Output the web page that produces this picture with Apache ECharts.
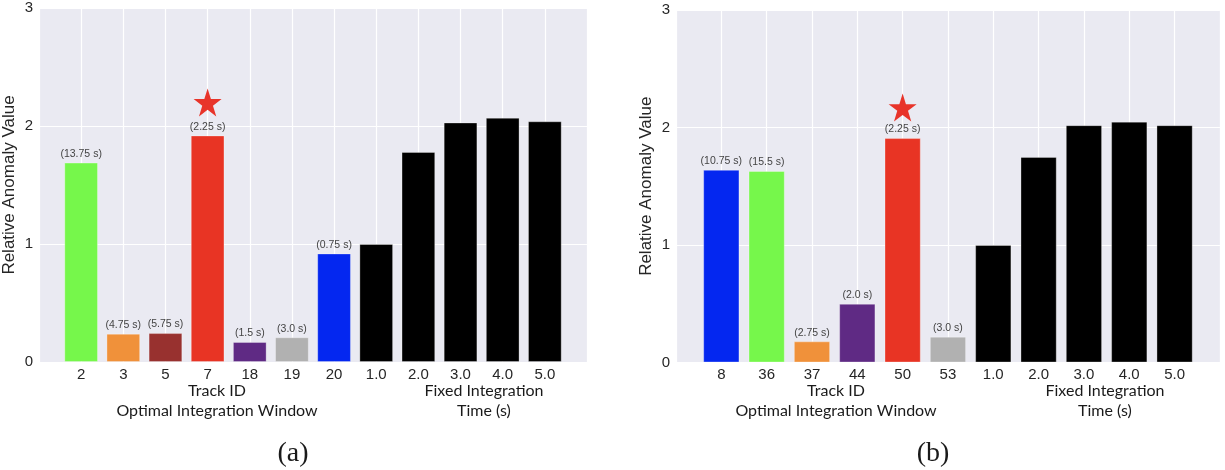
<!DOCTYPE html>
<html>
<head>
<meta charset="utf-8">
<title>Relative anomaly value per track</title>
<script src="https://cdn.jsdelivr.net/npm/echarts@6/dist/echarts.min.js"></script>
<style>
  html, body { margin: 0; padding: 0; background: #ffffff; }
  #chart { width: 1225px; height: 470px; }
</style>
</head>
<body>
<div id="chart"></div>
<script>
// ---- shared ----
const fixedTimes = ['1.0', '2.0', '3.0', '4.0', '5.0'];
const yTicks = [0, 1, 2, 3];

// ---- panel (a) ----
const trackIdsA = ['2', '3', '5', '7', '18', '19', '20'];
const trackValuesA = [1.69, 0.24, 0.245, 1.92, 0.17, 0.21, 0.92];
const windowsA = ['13.75 s', '4.75 s', '5.75 s', '2.25 s', '1.5 s', '3.0 s', '0.75 s'];
const trackColorsA = ['#76f74b', '#f0913a', '#98312f', '#e83424', '#5f2a84', '#b1b1b1', '#0427f0'];
const fixedValuesA = [1.00, 1.78, 2.03, 2.07, 2.04];
const bestTrackA = '7';
const starValueA = 2.2;

// ---- panel (b) ----
const trackIdsB = ['8', '36', '37', '44', '50', '53'];
const trackValuesB = [1.64, 1.63, 0.18, 0.50, 1.91, 0.22];
const windowsB = ['10.75 s', '15.5 s', '2.75 s', '2.0 s', '2.25 s', '3.0 s'];
const trackColorsB = ['#0427f0', '#76f74b', '#f0913a', '#5f2a84', '#e83424', '#b1b1b1'];
const fixedValuesB = [1.00, 1.75, 2.02, 2.05, 2.02];
const bestTrackB = '50';
const starValueB = 2.17;

const STAR = 'path://M50,0 L61.2,34.5 L97.6,34.5 L68.2,55.9 L79.4,90.5 L50,69.1 L20.6,90.5 L31.8,55.9 L2.4,34.5 L38.8,34.5 Z';
const TICK_FONT = 'Arial';
const NOTE_FONT = 'Lato';
const CAP_FONT = 'Liberation Serif';

function panel(i, tracks, values, windows, colors, fixedVals, best, starVal) {
  // empty categories at both ends give the half-slot padding around the bars
  const cats = [''].concat(tracks, fixedTimes, [' ']);
  const barData = ['-'];
  tracks.forEach((t, k) => {
    barData.push({
      value: values[k],
      itemStyle: { color: colors[k] },
      label: { show: true, formatter: '(' + windows[k] + ')' }
    });
  });
  fixedVals.forEach(v => {
    barData.push({ value: v, itemStyle: { color: '#000000' }, label: { show: false } });
  });
  barData.push('-');

  const xAxis = {
    type: 'category', gridIndex: i, data: cats, boundaryGap: false,
    axisLine: { show: false }, axisTick: { show: false },
    axisLabel: { color: '#262626', fontSize: 15, fontFamily: TICK_FONT, margin: 5, interval: 0 },
    splitLine: { show: true, lineStyle: { color: '#ffffff', width: 1.2 } }
  };
  const yAxis = {
    type: 'value', gridIndex: i, min: yTicks[0], max: yTicks[yTicks.length - 1], interval: 1,
    name: 'Relative Anomaly Value', nameLocation: 'middle', nameGap: 21,
    nameTextStyle: { color: '#262626', fontSize: 17, fontFamily: TICK_FONT },
    axisLine: { show: false }, axisTick: { show: false },
    axisLabel: { color: '#262626', fontSize: 15, fontFamily: TICK_FONT, margin: 6 },
    splitLine: { show: true, lineStyle: { color: '#ffffff', width: 1.2 } }
  };
  const series = [
    {
      type: 'bar', xAxisIndex: i, yAxisIndex: i, data: barData, barWidth: '80%',
      itemStyle: { borderColor: 'rgba(255,255,255,0.3)', borderWidth: 1 },
      label: { position: 'top', distance: 3, color: '#444444', fontSize: 10.5, fontFamily: TICK_FONT }
    },
    {
      type: 'scatter', xAxisIndex: i, yAxisIndex: i, symbol: STAR, symbolSize: 28,
      itemStyle: { color: '#e8342a', opacity: 1 },
      data: [[cats.indexOf(best), starVal]]
    }
  ];
  return { xAxis, yAxis, series };
}

const pa = panel(0, trackIdsA, trackValuesA, windowsA, trackColorsA, fixedValuesA, bestTrackA, starValueA);
const pb = panel(1, trackIdsB, trackValuesB, windowsB, trackColorsB, fixedValuesB, bestTrackB, starValueB);

function note(text, x, y, size, family) {
  return {
    type: 'text', x: x, y: y, silent: true,
    style: {
      text: text, fill: '#1a1a1a', fontSize: size, fontFamily: family,
      align: 'center', verticalAlign: 'middle'
    }
  };
}

const chart = echarts.init(document.getElementById('chart'), null, { renderer: 'canvas' });
chart.setOption({
  animation: false,
  backgroundColor: '#ffffff',
  grid: [
    { left: 39, top: 8, width: 548, height: 354, show: true, backgroundColor: '#eaeaf2', borderWidth: 0 },
    { left: 676, top: 10, width: 547, height: 352.5, show: true, backgroundColor: '#eaeaf2', borderWidth: 0 }
  ],
  xAxis: [pa.xAxis, pb.xAxis],
  yAxis: [pa.yAxis, pb.yAxis],
  series: pa.series.concat(pb.series),
  graphic: [
    note('Track ID', 217, 391, 16, NOTE_FONT),
    note('Optimal Integration Window', 217, 411, 16, NOTE_FONT),
    note('Fixed Integration', 484, 391, 16, NOTE_FONT),
    note('Time (s)', 484, 411, 16, NOTE_FONT),
    note('(a)', 293, 454, 28, CAP_FONT),
    note('Track ID', 836, 391, 16, NOTE_FONT),
    note('Optimal Integration Window', 836, 411, 16, NOTE_FONT),
    note('Fixed Integration', 1105, 391, 16, NOTE_FONT),
    note('Time (s)', 1105, 411, 16, NOTE_FONT),
    note('(b)', 933, 454, 28, CAP_FONT)
  ]
});
</script>
</body>
</html>
